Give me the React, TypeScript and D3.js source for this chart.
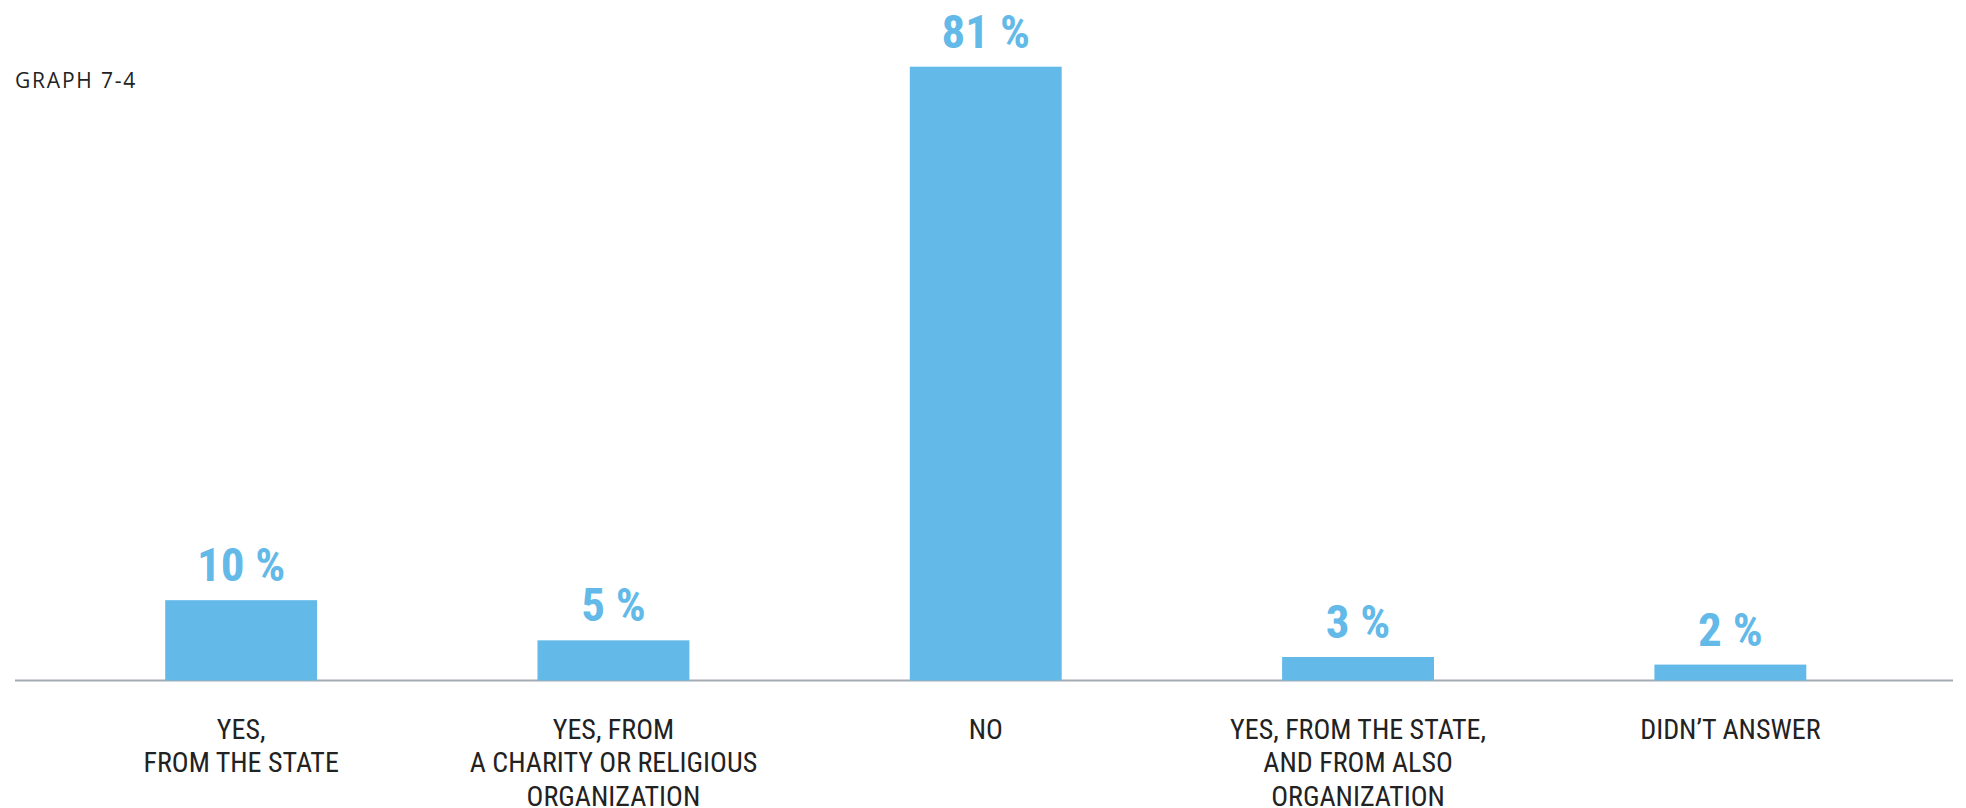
import React from "react";
import * as d3 from "d3";

const categories: string[][] = [
  ["YES,", "FROM THE STATE"],
  ["YES, FROM", "A CHARITY OR RELIGIOUS", "ORGANIZATION"],
  ["NO"],
  ["YES, FROM THE STATE,", "AND FROM ALSO", "ORGANIZATION"],
  ["DIDN\u2019T ANSWER"],
];
const keys = ["state", "charity", "no", "both", "noanswer"];
// bar heights (percent)
const values = [10.6, 5.3, 81, 3.1, 2.1];
// labels printed above bars
const valueLabels = ["10 %", "5 %", "81 %", "3 %", "2 %"];
const title = "GRAPH 7-4";

const W = 1966;
const H = 808;
const BLUE = "#63b9e8";
const COND = "'Roboto Condensed','DejaVu Sans Condensed','Liberation Sans Narrow',Roboto,sans-serif";

export default function App() {
  const baseY = 680.5;
  const x = d3
    .scaleBand<string>()
    .domain(keys)
    .range([55, 1916.5])
    .paddingInner(0.592)
    .paddingOuter(0.296);
  const y = d3.scaleLinear().domain([0, 81]).range([baseY, 66.7]);

  return (
    <svg
      width={W}
      height={H}
      style={{ position: "fixed", left: 0, top: 0, background: "#fff" }}
    >
      <text
        x={15}
        y={88.3}
        fontFamily="'Open Sans','Noto Sans',sans-serif"
        fontSize={21}
        letterSpacing={1.8}
        fill="#222"
      >
        {title}
      </text>
      <line x1={15} x2={1953} y1={baseY} y2={baseY} stroke="#a3abb3" strokeWidth={2} />
      {keys.map((k, i) => {
        const bx = x(k)!;
        const bw = x.bandwidth();
        const top = y(values[i]);
        const cx = bx + bw / 2;
        return (
          <g key={k}>
            <rect x={bx} y={top} width={bw} height={baseY - top} fill={BLUE} />
            <text
              x={cx}
              y={top - 19}
              textAnchor="middle"
              fontFamily={COND}
              fontWeight={700}
              fontSize={47}
              fill={BLUE}
            >
              {valueLabels[i]}
            </text>
            {categories[i].map((line, j) => (
              <text
                key={j}
                x={cx}
                y={738.5 + j * 33.5}
                textAnchor="middle"
                fontFamily={COND}
                fontSize={28}
                fill="#222"
              >
                {line}
              </text>
            ))}
          </g>
        );
      })}
    </svg>
  );
}
